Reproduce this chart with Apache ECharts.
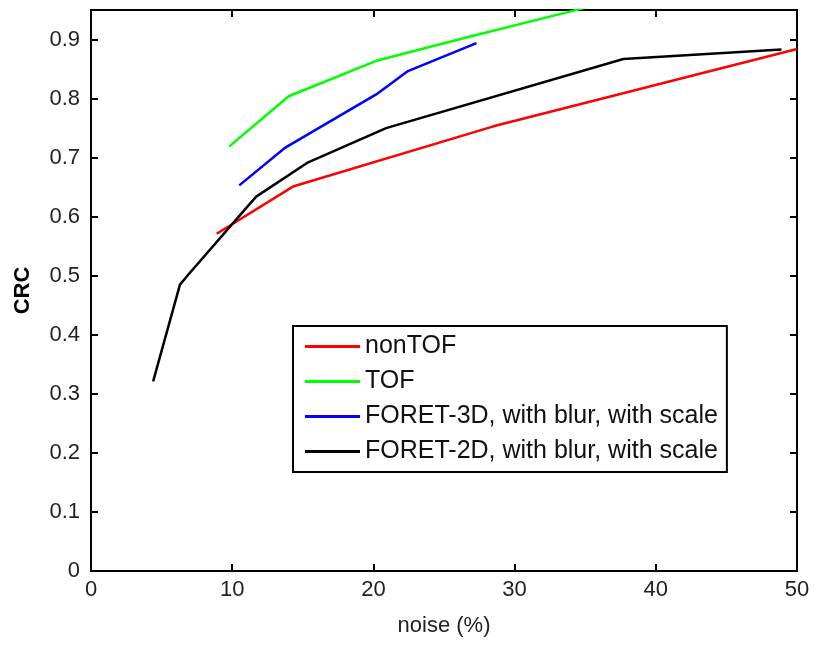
<!DOCTYPE html>
<html>
<head>
<meta charset="utf-8">
<script src="https://cdn.jsdelivr.net/npm/echarts@6/dist/echarts.min.js"></script>
<style>
html,body{margin:0;padding:0;background:#fff;}
#chart{width:817px;height:646px;}
</style>
</head>
<body>
<div id="chart"></div>
<script>
const seriesNames = ['nonTOF', 'TOF', 'FORET-3D, with blur, with scale', 'FORET-2D, with blur, with scale'];
const nonTOFNoise = [8.9, 14.3, 28.5, 50];
const nonTOFCRC   = [0.571, 0.651, 0.753, 0.884];
const tofNoise = [9.8, 14.0, 20.2, 27.0, 33.7, 36.0];
const tofCRC   = [0.719, 0.804, 0.864, 0.906, 0.946, 0.960];
const foret3dNoise = [10.5, 13.7, 20.2, 22.4, 27.3];
const foret3dCRC   = [0.653, 0.716, 0.807, 0.846, 0.894];
const foret2dNoise = [4.4, 6.3, 6.9, 11.0, 11.7, 15.3, 20.9, 37.7, 48.9];
const foret2dCRC   = [0.321, 0.485, 0.502, 0.615, 0.634, 0.691, 0.750, 0.867, 0.883];
const xLabel = 'noise (%)';
const yLabel = 'CRC';

const colors = ['#ff0000', '#00ff00', '#0000ff', '#000000'];
const pairs = (xs, ys) => xs.map((x, i) => [x, ys[i]]);
const allData = [
  pairs(nonTOFNoise, nonTOFCRC),
  pairs(tofNoise, tofCRC),
  pairs(foret3dNoise, foret3dCRC),
  pairs(foret2dNoise, foret2dCRC)
];

const font = 'Liberation Sans, Arial, sans-serif';
const axisLineStyle = { color: '#000', width: 2 };

const chart = echarts.init(document.getElementById('chart'), null, { renderer: 'canvas' });
chart.setOption({
  animation: false,
  backgroundColor: '#fff',
  grid: { left: 91, right: 20, top: 10, bottom: 75 },
  legend: {
    orient: 'vertical',
    left: 293,
    top: 326,
    data: seriesNames.map((n, i) => ({ name: n, icon: 'rect', itemStyle: { color: colors[i] } })),
    itemWidth: 55,
    itemHeight: 3,
    itemGap: 10,
    padding: [8, 9, 8, 12],
    borderColor: '#000',
    borderWidth: 2,
    backgroundColor: '#fff',
    textStyle: { fontFamily: font, fontSize: 25, color: '#111', padding: [0, 0, 0, 0] },
    selectedMode: false
  },
  xAxis: [{
    type: 'value', min: 0, max: 50, interval: 10, position: 'bottom',
    name: xLabel, nameLocation: 'middle', nameGap: 44,
    nameTextStyle: { fontFamily: font, fontSize: 22, color: '#222' },
    axisLine: { show: true, onZero: false, lineStyle: axisLineStyle },
    axisTick: { show: true, inside: true, length: 7, lineStyle: axisLineStyle },
    axisLabel: { fontFamily: font, fontSize: 22, color: '#222', margin: 8 },
    splitLine: { show: false }
  }, {
    type: 'value', min: 0, max: 50, interval: 10, position: 'top',
    axisLine: { show: true, onZero: false, lineStyle: axisLineStyle },
    axisTick: { show: true, inside: true, length: 7, lineStyle: axisLineStyle },
    axisLabel: { show: false },
    splitLine: { show: false }
  }],
  yAxis: [{
    type: 'value', min: 0, max: 0.95, interval: 0.1, position: 'left',
    name: yLabel, nameLocation: 'middle', nameGap: 57, nameRotate: 90,
    nameTextStyle: { fontFamily: font, fontSize: 22, fontWeight: 'bold', color: '#000' },
    axisLine: { show: true, onZero: false, lineStyle: axisLineStyle },
    axisTick: { show: true, inside: true, length: 7, lineStyle: axisLineStyle },
    axisLabel: { fontFamily: font, fontSize: 22, color: '#222', margin: 11, showMaxLabel: false },
    splitLine: { show: false }
  }, {
    type: 'value', min: 0, max: 0.95, interval: 0.1, position: 'right',
    axisLine: { show: true, onZero: false, lineStyle: axisLineStyle },
    axisTick: { show: true, inside: true, length: 7, lineStyle: axisLineStyle },
    axisLabel: { show: false },
    splitLine: { show: false }
  }],
  series: seriesNames.map((n, i) => ({
    name: n,
    type: 'line',
    xAxisIndex: 0,
    yAxisIndex: 0,
    data: allData[i],
    showSymbol: false,
    symbol: 'none',
    clip: true,
    color: colors[i],
    lineStyle: { color: colors[i], width: 2.5 },
    emphasis: { disabled: true },
    z: 2
  }))
});
</script>
</body>
</html>
